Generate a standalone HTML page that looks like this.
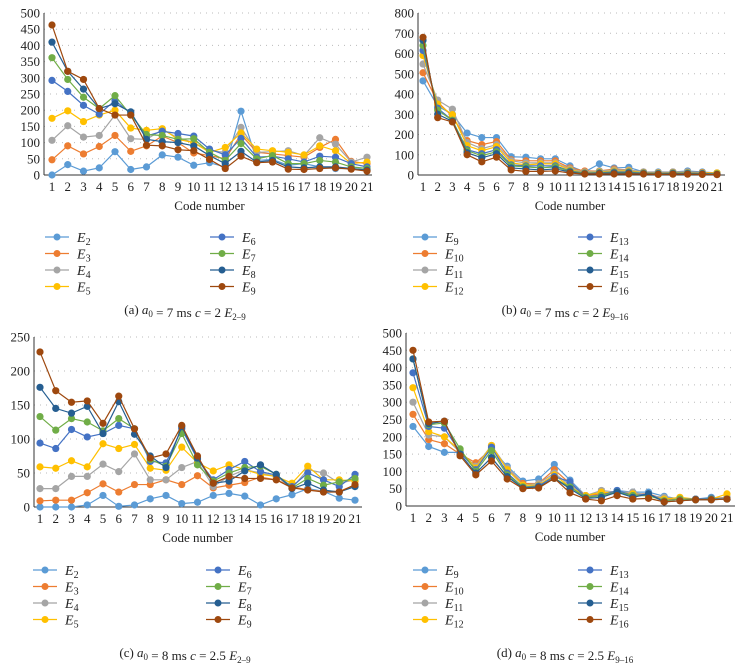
<!DOCTYPE html>
<html><head><meta charset="utf-8">
<style>
html,body{margin:0;padding:0;background:#fff;}
svg{display:block;font-family:"Liberation Serif",serif;}
</style></head>
<body>
<svg id="fig" width="743" height="668" viewBox="0 0 743 668" xmlns="http://www.w3.org/2000/svg"></svg>
<script>
const categories=[1,2,3,4,5,6,7,8,9,10,11,12,13,14,15,16,17,18,19,20,21];
const colors=["#5b9bd5","#ed7d31","#a5a5a5","#ffc000","#4472c4","#70ad47","#255e91","#9e480e"];
const namesA=["2","3","4","5","6","7","8","9"];
const namesB=["9","10","11","12","13","14","15","16"];
const ticksA=[0,50,100,150,200,250,300,350,400,450,500];
const ticksB=[0,100,200,300,400,500,600,700,800];
const ticksC=[0,50,100,150,200,250];
const ticksD=[0,50,100,150,200,250,300,350,400,450,500];
const dataA=[
[0,32,12,22,72,17,25,62,55,30,38,25,197,45,48,30,35,25,20,20,15],
[47,90,65,88,122,73,90,120,100,68,60,50,125,70,65,60,55,85,110,42,35],
[107,152,117,122,185,112,110,140,115,100,75,70,147,70,72,75,60,115,95,40,55],
[175,198,165,185,200,145,138,143,110,100,70,85,130,80,75,70,62,90,75,35,40],
[292,258,215,188,230,190,120,135,128,120,80,62,113,55,58,50,40,58,55,35,25],
[362,295,240,205,245,185,125,122,110,112,70,45,97,50,60,35,35,45,40,25,20],
[410,320,265,205,220,195,110,103,100,90,60,35,73,40,45,25,22,25,25,20,15],
[463,320,295,205,185,185,92,90,78,75,48,20,58,38,40,18,17,20,22,18,12]];
const dataB=[
[465,340,300,207,185,185,90,88,80,80,45,15,55,35,38,15,15,15,20,15,10],
[505,360,290,170,150,165,75,70,70,70,35,20,20,30,25,15,12,15,15,12,10],
[548,370,325,160,130,150,70,60,60,60,30,15,20,25,25,15,12,15,15,10,10],
[590,350,298,145,120,140,60,50,55,55,25,12,15,20,20,12,10,12,12,10,10],
[615,330,270,125,105,125,50,45,45,45,20,10,12,15,15,10,8,10,10,8,5],
[640,320,270,120,95,115,45,40,35,40,18,8,10,12,12,8,6,8,8,6,5],
[665,300,265,110,85,105,35,30,25,30,15,6,8,10,10,6,5,6,6,5,3],
[680,283,262,100,65,88,25,18,18,20,10,5,5,5,5,5,3,4,4,3,2]];
const dataC=[
[0,0,0,3,17,1,3,12,17,5,7,17,20,16,3,12,18,27,23,13,10],
[9,10,10,21,34,22,33,33,40,33,46,28,32,36,44,40,30,25,23,23,32],
[27,27,45,45,63,52,78,40,40,58,67,30,45,55,50,45,28,55,50,35,40],
[59,57,68,59,93,86,92,57,54,88,65,53,62,55,48,45,35,60,40,40,38],
[94,86,114,103,108,120,115,67,65,115,70,40,55,67,52,47,30,50,40,30,48],
[133,113,130,125,112,130,115,70,60,108,62,38,50,58,60,48,28,42,32,37,42],
[176,145,138,148,108,155,107,75,58,118,72,35,38,53,62,48,27,35,25,22,30],
[228,171,154,156,123,163,115,72,78,120,75,35,45,42,42,40,28,25,22,22,33]];
const dataD=[
[230,172,155,155,115,165,115,72,78,120,75,30,30,45,40,40,28,20,20,25,20],
[265,192,180,150,125,165,110,65,65,105,65,30,35,40,35,35,20,20,20,22,25],
[300,205,200,155,115,175,110,60,65,95,60,30,45,40,40,30,25,20,20,20,25],
[342,215,200,160,110,175,105,60,60,90,55,30,40,38,35,30,20,25,20,20,35],
[385,230,225,155,105,170,95,55,58,85,70,25,30,45,30,35,15,20,20,22,20],
[425,235,240,165,100,160,90,55,55,80,55,25,30,40,30,30,15,20,18,20,20],
[425,238,245,150,95,140,85,52,55,80,50,22,25,40,25,35,12,15,18,18,20],
[450,243,245,145,90,130,78,50,52,80,38,20,15,30,20,22,12,15,18,18,20]];

const NS="http://www.w3.org/2000/svg";
const svg=document.getElementById('fig');
function mk(tag,attrs,parent,text){
  const e=document.createElementNS(NS,tag);
  for(const k in attrs)e.setAttribute(k,attrs[k]);
  if(text!==undefined)e.textContent=text;
  (parent||svg).appendChild(e);return e;
}
function drawPanel(p){
  const g=mk('g',{});
  
  
  const max=p.ticks[p.ticks.length-1];
  const ys=v=>p.yBot-(v/max)*(p.yBot-p.yTop);
  const xs=c=>p.x0+(c-1)*(p.x1-p.x0)/20;
  p.ticks.forEach(t=>{
    if(t>0){const gl=mk('line',{x1:p.axisX,x2:p.right,y1:ys(t),y2:ys(t),stroke:'#bbb','stroke-width':1,'stroke-dasharray':'1,5'},g);
      
      }
    const tl=mk('text',{x:p.axisX-4,y:ys(t)+4.5,'text-anchor':'end','font-size':13,fill:'#222'},g,String(t));
    
    
  });
  const ya=mk('line',{x1:p.axisX,x2:p.axisX,y1:p.yTop,y2:p.yBot,stroke:'#333','stroke-width':1},g);
  
  
  const xa=mk('line',{x1:p.axisX,x2:p.right,y1:p.yBot,y2:p.yBot,stroke:'#333','stroke-width':1},g);
  
  
  categories.forEach(c=>{
    const t=mk('text',{x:xs(c),y:p.yBot+16,'text-anchor':'middle','font-size':13,fill:'#222'},g,String(c));
    
    
  });
  const xt=mk('text',{x:(p.x0+p.x1)/2,y:p.yBot+35,'text-anchor':'middle','font-size':13,fill:'#222'},g,'Code number');
  
  
  p.data.forEach((s,i)=>{
    const sg=mk('g',{},g);
    
    
    const pts=s.map((v,j)=>xs(categories[j])+','+ys(v)).join(' ');
    mk('polyline',{points:pts,fill:'none',stroke:colors[i],'stroke-width':1.2},sg);
    s.forEach((v,j)=>{
      const c=mk('circle',{cx:xs(categories[j]),cy:ys(v),r:p.r,fill:colors[i]},sg);
      
      
    });
  });
  // legend
  p.names.forEach((n,i)=>{
    const col=i<4?0:1,row=i%4;
    const mx=col?p.lx2:p.lx1, y=p.ly+row*p.ldy;
    const lg=mk('g',{},g);
    
    
    mk('line',{x1:mx-12,x2:mx+12,y1:y,y2:y,stroke:colors[i],'stroke-width':1.2},lg);
    mk('circle',{cx:mx,cy:y,r:3.5,fill:colors[i]},lg);
    const t=mk('text',{x:mx+20,y:y+5,'font-size':14,'font-style':'italic',fill:'#222'},lg,'E');
    mk('tspan',{'font-size':10,'font-style':'normal',dy:3},t,n);
  });
  const cap=mk('text',{x:p.cx,y:p.cy,'text-anchor':'middle','font-size':13,fill:'#222'},g);
  
  
  cap.innerHTML=p.cap;
}
const sub=(s)=>'<tspan font-size="9" dy="3">'+s+'</tspan><tspan dy="-3"></tspan>';
drawPanel({id:'a',data:dataA,names:namesA,ticks:ticksA,x0:52,x1:367,yTop:13,yBot:175,axisX:44,right:372,r:3.6,
  lx1:57,lx2:222,ly:237,ldy:16.5,cx:185,cy:314,
  cap:'(a)  <tspan font-style="italic">a</tspan>'+sub('0')+' = 7 ms  <tspan font-style="italic">c</tspan> = 2  <tspan font-style="italic">E</tspan>'+sub('2–9')});
drawPanel({id:'b',data:dataB,names:namesB,ticks:ticksB,x0:423,x1:717,yTop:13,yBot:175,axisX:418,right:725,r:3.6,
  lx1:425,lx2:590,ly:237,ldy:16.5,cx:565,cy:314,
  cap:'(b)  <tspan font-style="italic">a</tspan>'+sub('0')+' = 7 ms  <tspan font-style="italic">c</tspan> = 2  <tspan font-style="italic">E</tspan>'+sub('9–16')});
drawPanel({id:'c',data:dataC,names:namesA,ticks:ticksC,x0:40,x1:355,yTop:337,yBot:507,axisX:34,right:362,r:3.6,
  lx1:45,lx2:218,ly:570,ldy:16.5,cx:185,cy:657,
  cap:'(c)  <tspan font-style="italic">a</tspan>'+sub('0')+' = 8 ms  <tspan font-style="italic">c</tspan> = 2.5  <tspan font-style="italic">E</tspan>'+sub('2–9')});
drawPanel({id:'d',data:dataD,names:namesB,ticks:ticksD,x0:413,x1:727,yTop:333,yBot:506,axisX:406,right:735,r:3.6,
  lx1:425,lx2:590,ly:570,ldy:16.5,cx:565,cy:657,
  cap:'(d)  <tspan font-style="italic">a</tspan>'+sub('0')+' = 8 ms  <tspan font-style="italic">c</tspan> = 2.5  <tspan font-style="italic">E</tspan>'+sub('9–16')});
</script>
</body></html>
